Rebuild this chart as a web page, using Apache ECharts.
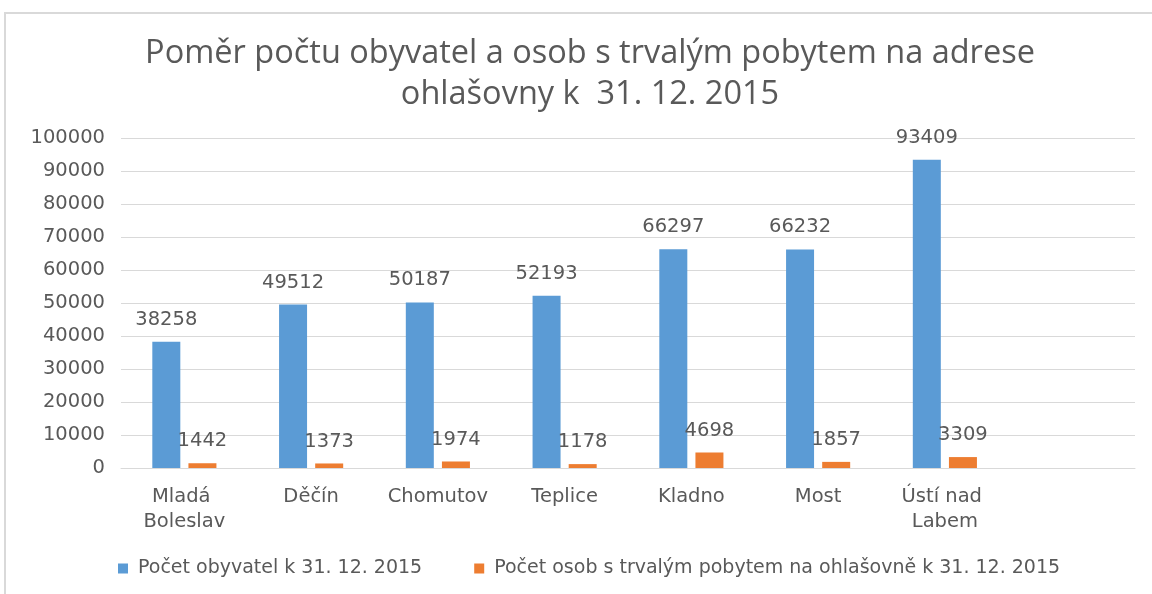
<!DOCTYPE html>
<html>
<head>
<meta charset="utf-8">
<script src="https://cdn.jsdelivr.net/npm/echarts@6/dist/echarts.min.js"></script>
<style>
    html, body { margin: 0; padding: 0; background: #fff; }
    #frame { position: absolute; left: 4px; top: 12px; width: 1148px; height: 582px;
             border-top: 2px solid #d9d9d9; border-left: 2px solid #d9d9d9; box-sizing: border-box; }
    #chart { position: absolute; left: 0; top: 0; width: 1152px; height: 594px; }
</style>
</head>
<body>
<div id="frame"></div>
<div id="chart"></div>
<script>
var categories = ['Mladá Boleslav', 'Děčín', 'Chomutov', 'Teplice', 'Kladno', 'Most', 'Ústí nad Labem'];
var obyvatele = [38258, 49512, 50187, 52193, 66297, 66232, 93409];
var ohlasovna = [1442, 1373, 1974, 1178, 4698, 1857, 3309];
var yTicks = [0, 10000, 20000, 30000, 40000, 50000, 60000, 70000, 80000, 90000, 100000];
var seriesNames = ['Počet obyvatel k 31. 12. 2015', 'Počet osob s trvalým pobytem na ohlašovně k 31. 12. 2015'];

var textColor = '#595959';
var font = 'DejaVu Sans';

// prázdná kategorie navíc na konci osy, jako v originále
var axisCats = categories.concat(['']);

var myChart = echarts.init(document.getElementById('chart'));
var option = {
    animation: false,
    title: {
        text: 'Poměr počtu obyvatel a osob s trvalým pobytem na adrese\nohlašovny k  31. 12. 2015',
        left: 585,
        textAlign: 'center',
        top: 28,
        textStyle: {
            fontFamily: 'Open Sans',
            fontSize: 32.5,
            fontWeight: 'normal',
            color: textColor,
            lineHeight: 41
        }
    },
    legend: {
        left: 113,
        bottom: 11,
        icon: 'rect',
        itemWidth: 10,
        itemHeight: 10,
        itemGap: 52,
        textStyle: { fontFamily: font, fontSize: 19, color: textColor, padding: [0, 0, 0, 5] },
        data: seriesNames
    },
    grid: {
        left: 121,
        right: 17,
        top: 138,
        bottom: 126
    },
    xAxis: {
        type: 'category',
        data: axisCats,
        axisLine: { lineStyle: { color: '#d9d9d9', width: 1 } },
        axisTick: { show: false },
        axisLabel: {
            fontFamily: font,
            fontSize: 19.5,
            color: textColor,
            margin: 16,
            lineHeight: 25,
            width: 112,
            overflow: 'break',
            interval: 0
        }
    },
    yAxis: {
        type: 'value',
        min: yTicks[0],
        max: yTicks[yTicks.length - 1],
        interval: yTicks[1] - yTicks[0],
        axisLine: { show: false },
        axisTick: { show: false },
        splitLine: { lineStyle: { color: '#d9d9d9', width: 1 } },
        axisLabel: {
            fontFamily: font,
            fontSize: 19.5,
            color: textColor,
            margin: 16,
            formatter: function (v) { return String(v); }
        }
    },
    series: [
        {
            name: seriesNames[0],
            type: 'bar',
            data: obyvatele,
            barWidth: 28,
            barGap: '29%',
            itemStyle: { color: '#5b9bd5' },
            label: { show: true, position: 'top', distance: 12, fontFamily: font, fontSize: 19.5, color: textColor }
        },
        {
            name: seriesNames[1],
            type: 'bar',
            data: ohlasovna,
            barWidth: 28,
            barGap: '29%',
            itemStyle: { color: '#ed7d31' },
            label: { show: true, position: 'top', distance: 12, fontFamily: font, fontSize: 19.5, color: textColor }
        }
    ]
};
myChart.setOption(option);
</script>
</body>
</html>
